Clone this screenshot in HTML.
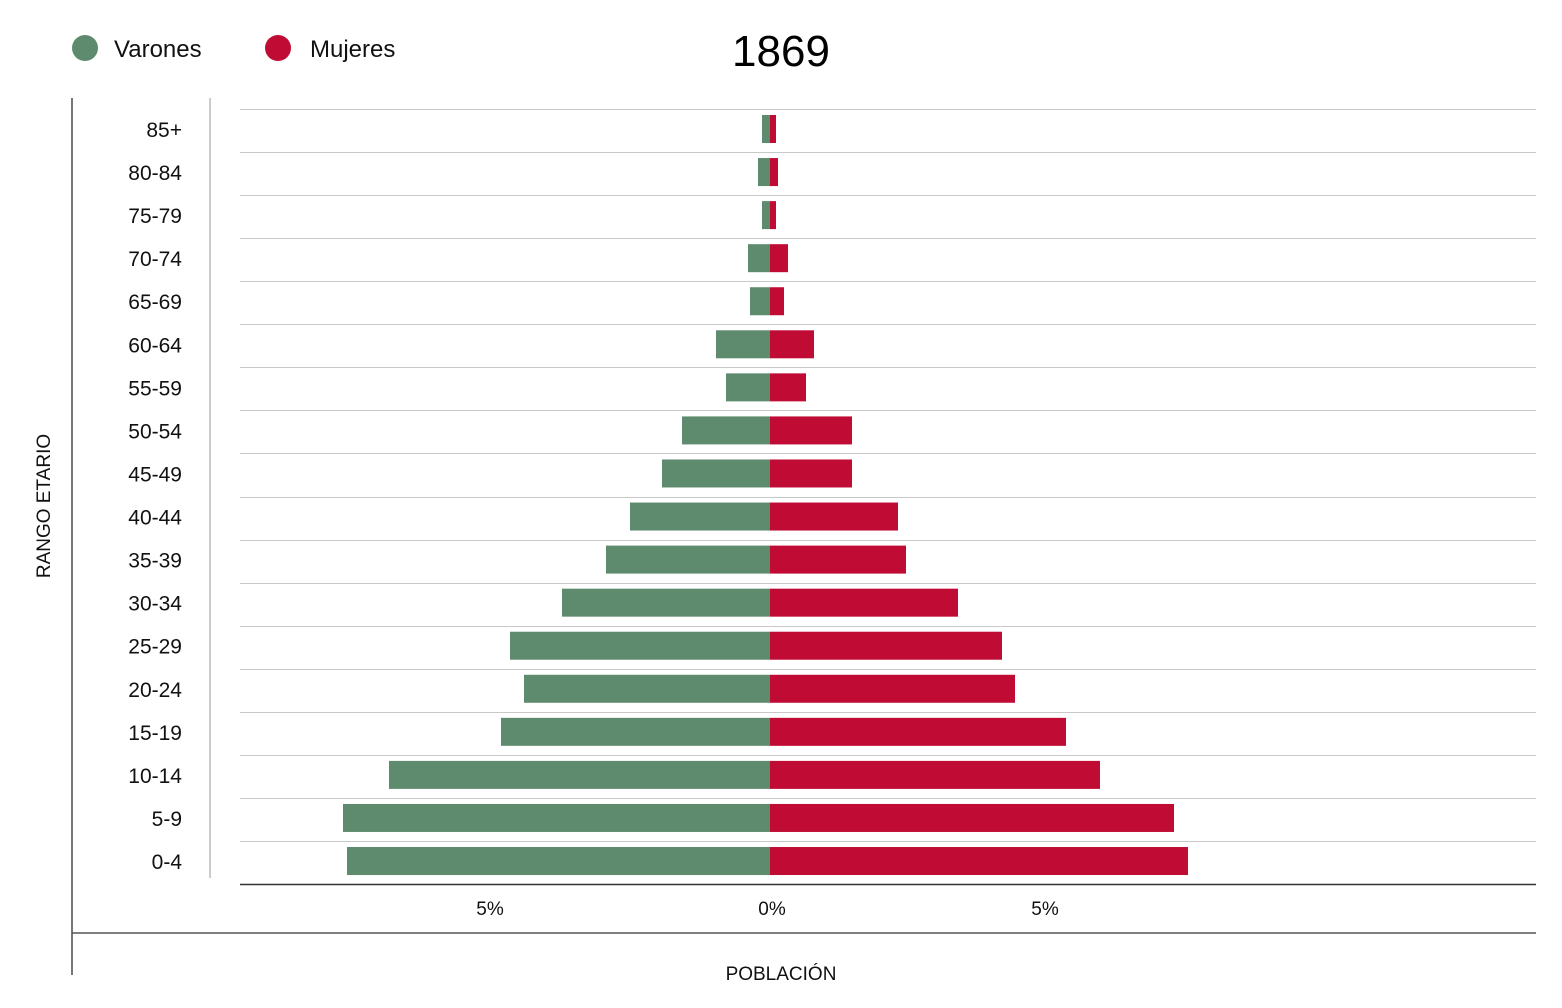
<!DOCTYPE html>
<html><head><meta charset="utf-8"><style>body{margin:0;background:#fff}svg{display:block}text{font-family:"Liberation Sans",sans-serif}</style></head><body>
<svg width="1562" height="1008" xmlns="http://www.w3.org/2000/svg">
<circle cx="85" cy="48" r="13" fill="#5e8b6e"/>
<text x="114" y="57" font-size="24" fill="#111">Varones</text>
<circle cx="278" cy="48" r="13" fill="#c00c35"/>
<text x="310" y="57" font-size="24" fill="#111">Mujeres</text>
<text x="781" y="66" font-size="44" text-anchor="middle" fill="#000">1869</text>
<line x1="72" y1="98" x2="72" y2="975" stroke="#777" stroke-width="2"/>
<line x1="210" y1="98" x2="210" y2="878" stroke="#ccc" stroke-width="2"/>
<line x1="72" y1="933" x2="1536" y2="933" stroke="#555" stroke-width="1.5"/>
<g id="g"></g>
<text transform="translate(50,506) rotate(-90)" font-size="19" text-anchor="middle" fill="#111">RANGO ETARIO</text>
<text x="781" y="980" font-size="19" text-anchor="middle" fill="#111">POBLACIÓN</text>
<text x="490" y="915" font-size="19" text-anchor="middle" fill="#111">5%</text>
<text x="772" y="915" font-size="19" text-anchor="middle" fill="#111">0%</text>
<text x="1045" y="915" font-size="19" text-anchor="middle" fill="#111">5%</text>
<line x1="240" y1="884.5" x2="1536" y2="884.5" stroke="#333" stroke-width="1.5"/>
</svg>
<script>
var d=[["85+",762,776],["80-84",758,778],["75-79",762,776],["70-74",748,788],["65-69",750,784],["60-64",716,814],["55-59",726,806],["50-54",682,852],["45-49",662,852],["40-44",630,898],["35-39",606,906],["30-34",562,958],["25-29",510,1002],["20-24",524,1015],["15-19",501,1066],["10-14",389,1100],["5-9",343,1174],["0-4",347,1188]];
var s="",st=43.06;
d.forEach(function(r,i){var c=129+i*st;var gy=Math.round(c-20)+0.5;
s+='<line x1="240" y1="'+gy+'" x2="1536" y2="'+gy+'" stroke="#c8c8c8" stroke-width="1"/>';
s+='<rect x="'+r[1]+'" y="'+(c-14)+'" width="'+(770-r[1])+'" height="28" fill="#5e8b6e"/>';
s+='<rect x="770" y="'+(c-14)+'" width="'+(r[2]-770)+'" height="28" fill="#c00c35"/>';
s+='<text x="182" y="'+(c+8)+'" font-size="21" text-anchor="end" fill="#111">'+r[0]+'</text>';});
document.getElementById("g").innerHTML=s;
</script>
</body></html>
